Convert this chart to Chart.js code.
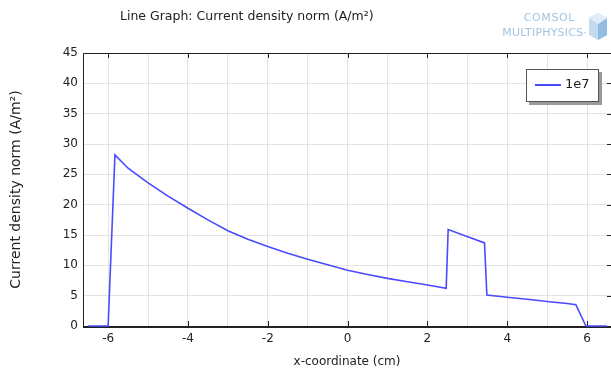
<!DOCTYPE html>
<html>
<head>
    <title>Current density norm</title>
    <script src="https://cdn.jsdelivr.net/npm/chart.js"></script>
    <style>
        body { margin: 0; background: #fff; }
        .frame { position: relative; width: 611px; height: 374px; }
        .logo {
            position: absolute; right: 24px; top: 10px;
            font-family: "DejaVu Sans", sans-serif; color: #a3c4e2;
            text-align: right; line-height: 15px;
        }
        .logo .a { font-size: 11px; letter-spacing: 0.6px; padding-right: 12px; }
        .logo .b { font-size: 11px; letter-spacing: 0.2px; }
        .cube { position: absolute; right: 3px; top: 11px; }
    </style>
</head>
<body>
<div class="frame">
    <canvas id="lineChart" width="611" height="374"></canvas>
    <div class="logo"><div class="a">COMSOL</div><div class="b">MULTIPHYSICS&#183;</div></div>
    <svg class="cube" width="20" height="30" viewBox="0 0 20 30">
        <polygon points="10,2 19,7 19,24 10,29 1,24 1,7" fill="#c4dbef"/>
        <polygon points="10,13 19,7 19,24 10,29" fill="#92bce0"/>
        <polygon points="10,2 19,7 10,13 1,7" fill="#e0edf8"/>
    </svg>
</div>

<script>
    // values
    const xValues = [-6.5, -6.0, -5.83, -5.5, -5, -4.5, -4, -3.5, -3, -2.5, -2, -1.5, -1, -0.5, 0,
                     0.5, 1, 1.5, 2, 2.47, 2.52, 3.43, 3.49, 4, 4.5, 5, 5.5, 5.72, 5.97, 6.5];
    const yValues = [0, 0, 28.2, 26.0, 23.6, 21.4, 19.4, 17.5, 15.7, 14.3, 13.1, 12.0, 11.0, 10.1, 9.2,
                     8.5, 7.85, 7.3, 6.75, 6.2, 15.9, 13.7, 5.1, 4.75, 4.4, 4.05, 3.7, 3.5, 0, 0];
    const seriesLabel = '1e7';
    const xTicks = [-6, -4, -2, 0, 2, 4, 6];
    const yTicks = [0, 5, 10, 15, 20, 25, 30, 35, 40, 45];

    const chartTitle = 'Line Graph: Current density norm (A/m\u00B2)';
    const font = 'DejaVu Sans';

    // box and inward ticks, under the curve
    const frameBox = {
        id: 'frameBox',
        beforeDatasetsDraw(chart) {
            const ctx = chart.ctx;
            const a = chart.chartArea;
            const xs = chart.scales.x;
            const ys = chart.scales.y;
            ctx.save();
            ctx.strokeStyle = '#222';
            ctx.lineWidth = 1;
            ctx.beginPath();
            ctx.moveTo(a.left + 0.5, a.bottom);
            ctx.lineTo(a.left + 0.5, a.top + 0.5);
            ctx.lineTo(a.right, a.top + 0.5);
            ctx.stroke();
            ctx.lineWidth = 2;
            ctx.beginPath();
            ctx.moveTo(a.left, a.bottom + 1);
            ctx.lineTo(a.right, a.bottom + 1);
            ctx.stroke();

            ctx.lineWidth = 1;
            ctx.beginPath();
            xTicks.forEach(v => {
                const px = Math.round(xs.getPixelForValue(v)) + 0.5;
                ctx.moveTo(px, a.bottom);
                ctx.lineTo(px, a.bottom - 5);
                ctx.moveTo(px, a.top);
                ctx.lineTo(px, a.top + 5);
            });
            yTicks.forEach(v => {
                const py = Math.round(ys.getPixelForValue(v)) + 0.5;
                ctx.moveTo(a.right, py);
                ctx.lineTo(a.right - 4, py);
            });
            ctx.stroke();
            ctx.restore();
        }
    };

    // title and legend box
    const labels = {
        id: 'labels',
        afterDraw(chart) {
            const ctx = chart.ctx;
            ctx.save();
            ctx.fillStyle = '#222';
            ctx.font = '12.5px "' + font + '"';
            ctx.textBaseline = 'middle';
            ctx.textAlign = 'left';
            ctx.fillText(chartTitle, 120, 17);

            const ds = chart.data.datasets[0];
            ctx.fillStyle = '#9a9a9a';
            ctx.fillRect(529, 72, 73, 33);
            ctx.fillStyle = '#fff';
            ctx.fillRect(526, 69, 72, 32);
            ctx.strokeStyle = '#555';
            ctx.lineWidth = 1;
            ctx.strokeRect(526.5, 69.5, 72, 32);
            ctx.strokeStyle = ds.borderColor;
            ctx.lineWidth = 2;
            ctx.beginPath();
            ctx.moveTo(535, 85);
            ctx.lineTo(561, 85);
            ctx.stroke();
            ctx.fillStyle = '#222';
            ctx.font = '13px "' + font + '"';
            ctx.fillText(ds.label, 565, 85);
            ctx.restore();
        }
    };

    new Chart(document.getElementById('lineChart'), {
        type: 'line',
        data: {
            datasets: [{
                label: seriesLabel,
                data: xValues.map((x, i) => ({ x: x, y: yValues[i] })),
                borderColor: '#4a4aff',
                borderWidth: 1.6,
                pointRadius: 0,
                tension: 0,
                fill: false,
                clip: false,
            }],
        },
        options: {
            responsive: false,
            animation: false,
            layout: { padding: { top: 53, left: 0, right: 0, bottom: 0 } },
            plugins: {
                legend: { display: false },
                title: { display: false },
                tooltip: { enabled: false },
            },
            scales: {
                x: {
                    type: 'linear',
                    min: -6.63,
                    max: 6.6,
                    afterFit: (scale) => { scale.height = 48; },
                    border: { display: false },
                    grid: { color: '#e3e3e3', drawTicks: false },
                    ticks: {
                        stepSize: 1,
                        includeBounds: false,
                        autoSkip: false,
                        maxRotation: 0,
                        padding: 6,
                        color: '#222',
                        font: { family: font, size: 12 },
                        callback: (v) => xTicks.includes(v) ? String(v) : '',
                    },
                    title: {
                        display: true,
                        text: 'x-coordinate (cm)',
                        color: '#222',
                        font: { family: font, size: 12 },
                        padding: { top: 0, bottom: 5 },
                    },
                },
                y: {
                    min: 0,
                    max: 45,
                    afterFit: (scale) => { scale.width = 83; },
                    border: { display: false },
                    grid: { color: '#e3e3e3', drawTicks: false },
                    ticks: {
                        stepSize: 5,
                        padding: 5,
                        color: '#222',
                        font: { family: font, size: 12 },
                    },
                    title: {
                        display: true,
                        text: 'Current density norm (A/m\u00B2)',
                        color: '#222',
                        font: { family: font, size: 14 },
                        padding: { top: 8, bottom: 0 },
                    },
                },
            },
        },
        plugins: [frameBox, labels],
    });
</script>
</body>
</html>
